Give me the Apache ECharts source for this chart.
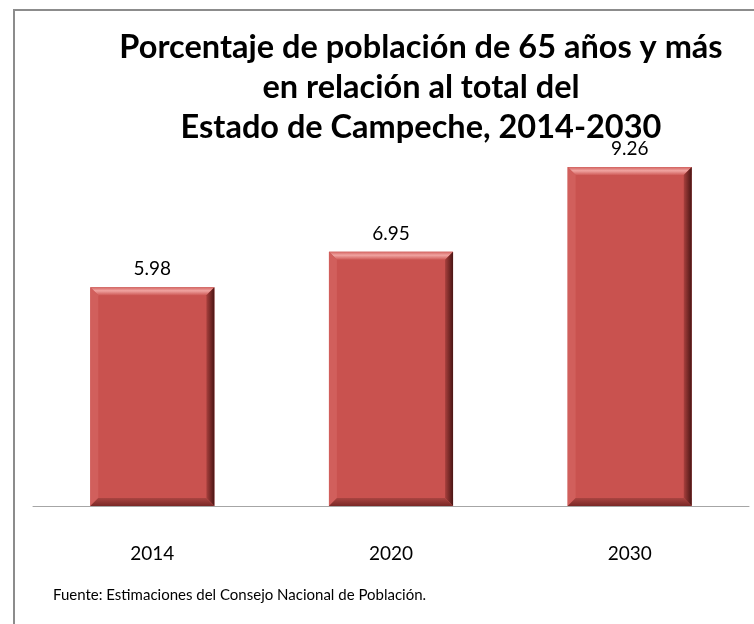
<!DOCTYPE html>
<html>
<head>
<meta charset="utf-8">
<script src="https://cdn.jsdelivr.net/npm/echarts@6/dist/echarts.min.js"></script>
<style>
  html, body { margin: 0; padding: 0; background: #fff; }
  #chart { width: 754px; height: 624px; }
</style>
</head>
<body>
<div id="chart"></div>
<script>
// datos
const years = ['2014', '2020', '2030']
const porcentajes = [5.98, 6.95, 9.26]
const titleLines = [
  'Porcentaje de población de 65 años y más',
  'en relación al total del',
  'Estado de Campeche, 2014-2030'
]
const fuente = 'Fuente: Estimaciones del Consejo Nacional de Población.'

const FONT = 'Lato, "Open Sans", sans-serif'

// barra con bisel (estilo Excel)
const renderBar = (params, api) => {
  const top = api.coord([api.value(0), api.value(1)])
  const base = api.coord([api.value(0), 0])
  const w = api.size([1, 0])[0] * 0.52
  const x0 = top[0] - w / 2
  const x1 = top[0] + w / 2
  const y0 = top[1]
  const y1 = base[1]
  const b = 8
  return {
    type: 'group',
    children: [
      { type: 'rect', shape: { x: x0, y: y0, width: w, height: y1 - y0 }, style: { fill: '#C9524F' } },
      // arriba
      { type: 'polygon', shape: { points: [[x0, y0], [x1, y0], [x1 - b, y0 + b], [x0 + b, y0 + b]] },
        style: { fill: new echarts.graphic.LinearGradient(0, 0, 0, 1, [
          { offset: 0, color: '#D2625F' }, { offset: 0.45, color: '#F0A4A1' }, { offset: 1, color: '#CF5B58' }]) } },
      // izquierda
      { type: 'polygon', shape: { points: [[x0, y0], [x0 + b, y0 + b], [x0 + b, y1 - b], [x0, y1]] },
        style: { fill: '#D15F5C' } },
      // derecha
      { type: 'polygon', shape: { points: [[x1, y0], [x1, y1], [x1 - b, y1 - b], [x1 - b, y0 + b]] },
        style: { fill: new echarts.graphic.LinearGradient(0, 0, 1, 0, [
          { offset: 0, color: '#A8403D' }, { offset: 1, color: '#4A1514' }]) } },
      // abajo
      { type: 'polygon', shape: { points: [[x0, y1], [x0 + b, y1 - b], [x1 - b, y1 - b], [x1, y1]] },
        style: { fill: new echarts.graphic.LinearGradient(0, 0, 0, 1, [
          { offset: 0, color: '#A94441' }, { offset: 1, color: '#7A2826' }]) } },
      // etiqueta
      { type: 'text', style: { text: api.value(1).toFixed(2), x: top[0], y: y0 - 18,
        align: 'center', verticalAlign: 'middle', fontFamily: FONT, fontSize: 19, fill: '#000' } }
    ]
  }
}

const chart = echarts.init(document.getElementById('chart'))

const option = {
  backgroundColor: '#fff',
  animation: false,
  grid: { left: 33, right: 5, top: 140, bottom: 118 },
  xAxis: {
    type: 'category',
    data: years,
    axisLine: { lineStyle: { color: '#A6A6A6', width: 1 } },
    axisTick: { show: false },
    axisLabel: { color: '#000', fontSize: 19, fontFamily: FONT, margin: 38 }
  },
  yAxis: { type: 'value', min: 0, max: 10, show: false },
  series: [{
    type: 'custom',
    renderItem: renderBar,
    encode: { x: 0, y: 1 },
    data: years.map((y, i) => [i, porcentajes[i]])
  }],
  graphic: [
    { type: 'rect', shape: { x: 14, y: 10, width: 800, height: 700 },
      style: { fill: 'none', stroke: '#8C8C8C', lineWidth: 2 } },
    ...titleLines.map((t, i) => ({
      type: 'text',
      style: { text: t, x: 421, y: 48 + i * 40, align: 'center', verticalAlign: 'middle',
        fontFamily: FONT, fontWeight: 'bold', fontSize: 32.5, fill: '#000' }
    })),
    { type: 'text', style: { text: fuente, x: 53, y: 595, verticalAlign: 'middle',
      fontFamily: FONT, fontSize: 15, fill: '#000' } }
  ]
}

chart.setOption(option)
</script>
</body>
</html>
